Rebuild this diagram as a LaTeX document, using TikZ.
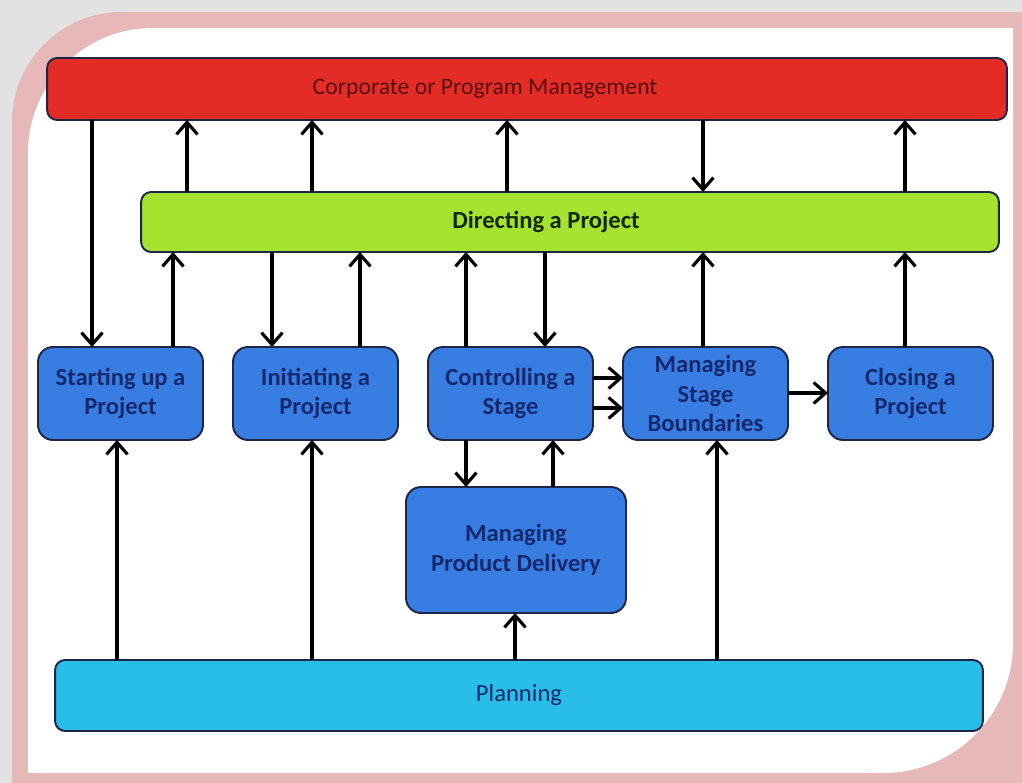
\documentclass[tikz,border=0pt]{standalone}
\usepackage{fontspec}
\setmainfont{Carlito}
\usetikzlibrary{arrows.meta}

\definecolor{FramePink}{RGB}{230,184,184}
\definecolor{ShadowGray}{RGB}{226,226,226}
\definecolor{CorpRed}{RGB}{228,44,38}
\definecolor{DirectGreen}{RGB}{166,226,48}
\definecolor{StageBlue}{RGB}{56,126,226}
\definecolor{PlanCyan}{RGB}{40,190,232}
\definecolor{EdgeNavy}{RGB}{30,38,72}
\definecolor{TextNavy}{RGB}{22,40,110}
\definecolor{TextMaroon}{RGB}{90,14,14}
\definecolor{TextGreen}{RGB}{20,40,10}

\tikzset{
  bar/.style={draw=EdgeNavy, line width=1.1pt, rounded corners=0.2cm,
    inner sep=0pt, outer sep=0pt},
  stagebox/.style={draw=EdgeNavy, line width=1.1pt, fill=StageBlue,
    rounded corners=0.3cm, minimum width=3.3cm, minimum height=1.86cm,
    align=center, text=TextNavy, font=\fontsize{14}{17}\selectfont\bfseries,
    inner sep=0pt, outer sep=0pt},
  flow/.style={line width=1.8pt, -{Straight Barb[length=2.4mm,width=4.2mm]}},
}

\begin{document}
\begin{tikzpicture}[x=0.02cm, y=-0.02cm]
    \useasboundingbox (0,0) rectangle (1022,783);

    % frame
    \fill[ShadowGray] (0,0) rectangle (1022,783);
    \fill[FramePink] (12,800) [rounded corners=2.2cm] -- (12,12) -- (600,12)
        [sharp corners] -- (1040,12) -- (1040,800) -- cycle;
    \fill[white] (28,400) [rounded corners=2.5cm] -- (28,28) -- (600,28)
        [sharp corners] -- (1013,28) -- (1013,400)
        [rounded corners=2.6cm] -- (1013,773) -- (500,773)
        [sharp corners] -- (28,773) -- cycle;

    % bars
    \node[bar, fill=CorpRed, minimum width=19.2cm, minimum height=1.24cm,
        label={[xshift=-0.84cm, text=TextMaroon, font=\fontsize{13.5}{15}\selectfont]center:Corporate or Program Management}]
        (corp) at (527,89) {};
    \node[bar, fill=DirectGreen, minimum width=17.16cm, minimum height=1.2cm,
        label={[xshift=-0.48cm, text=TextGreen, font=\fontsize{14}{17}\selectfont\bfseries]center:Directing a Project}]
        (direct) at (570,222) {};
    \node[bar, fill=PlanCyan, minimum width=18.56cm, minimum height=1.42cm,
        text=TextNavy, font=\fontsize{14}{17}\selectfont]
        (plan) at (519,695.5) {Planning};

    % processes
    \node[stagebox] (start) at (120.5,393.5) {Starting up a\\Project};
    \node[stagebox] (init)  at (315.5,393.5) {Initiating a\\Project};
    \node[stagebox] (ctrl)  at (510.5,393.5) {Controlling a\\Stage};
    \node[stagebox] (msb)   at (705.5,393.5) {Managing\\Stage\\Boundaries};
    \node[stagebox] (close) at (910.5,393.5) {Closing a\\Project};
    \node[stagebox, minimum width=4.4cm, minimum height=2.52cm]
        (mpd) at (516,550) {Managing\\Product Delivery};

    % corporate and directing
    \draw[flow] (corp.south -| 92,0) -- (start.north -| 92,0);
    \foreach \x in {187,312,507,905}
        \draw[flow] (direct.north -| \x,0) -- (corp.south -| \x,0);
    \draw[flow] (corp.south -| 703,0) -- (direct.north -| 703,0);

    % directing and processes
    \draw[flow] (start.north -| 173,0) -- (direct.south -| 173,0);
    \draw[flow] (direct.south -| 272,0) -- (init.north -| 272,0);
    \draw[flow] (init.north -| 360,0) -- (direct.south -| 360,0);
    \draw[flow] (ctrl.north -| 466,0) -- (direct.south -| 466,0);
    \draw[flow] (direct.south -| 545,0) -- (ctrl.north -| 545,0);
    \draw[flow] (msb.north -| 703,0) -- (direct.south -| 703,0);
    \draw[flow] (close.north -| 905,0) -- (direct.south -| 905,0);

    % between processes
    \draw[flow] (ctrl.east |- 0,378) -- (msb.west |- 0,378);
    \draw[flow] (ctrl.east |- 0,408) -- (msb.west |- 0,408);
    \draw[flow] (msb.east |- 0,393) -- (close.west |- 0,393);

    % planning and delivery
    \draw[flow] (plan.north -| 117,0) -- (start.south -| 117,0);
    \draw[flow] (plan.north -| 312,0) -- (init.south -| 312,0);
    \draw[flow] (plan.north -| 515,0) -- (mpd.south -| 515,0);
    \draw[flow] (plan.north -| 717,0) -- (msb.south -| 717,0);
    \draw[flow] (ctrl.south -| 466,0) -- (mpd.north -| 466,0);
    \draw[flow] (mpd.north -| 553,0) -- (ctrl.south -| 553,0);
\end{tikzpicture}
\end{document}
